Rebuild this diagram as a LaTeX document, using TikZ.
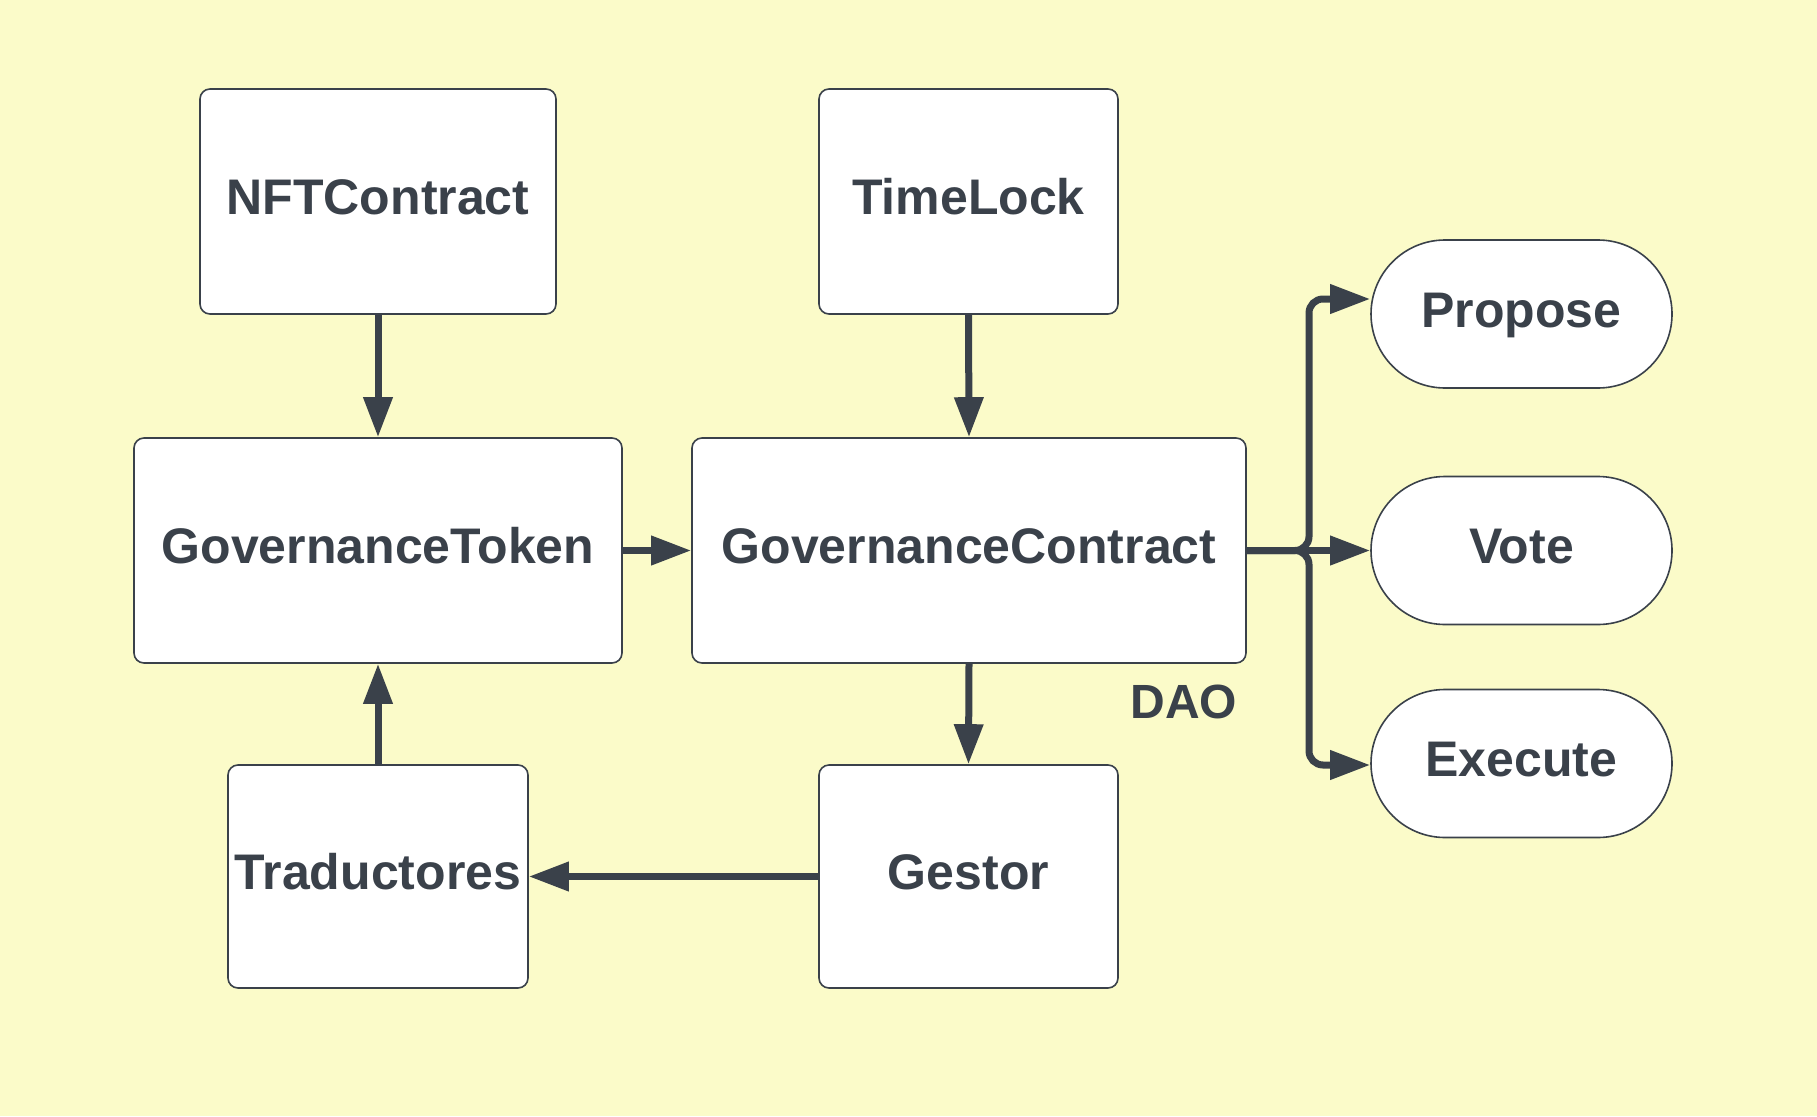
\documentclass[tikz,border=0pt]{standalone}
\usepackage{fontspec}
\setmainfont{Liberation Sans}
\usetikzlibrary{arrows.meta}
\definecolor{bg}{HTML}{FBFBC9}
\definecolor{ink}{HTML}{3A414A}
\tikzset{
  x=1pt,y=-1pt,
  box/.style={draw=ink, line width=1.6pt, fill=white, rounded corners=10pt, inner sep=0pt, text=ink,
    text height=37pt, text depth=10.5pt,
    font=\fontsize{50}{60}\selectfont\bfseries},
  pill/.style={box, rounded corners=74pt, minimum width=301pt, minimum height=148pt},
  conn/.style={draw=ink, line width=7pt, -{Triangle[length=40pt,width=28pt]}},
}
\begin{document}
\begin{tikzpicture}
\fill[bg] (0,0) rectangle (1817,1116);
\useasboundingbox (0,0) rectangle (1817,1116);
\node[box, minimum width=356pt, minimum height=225pt] (nft) at (378,201.5) {NFTContract};
\node[box, minimum width=299pt, minimum height=225pt] (tl) at (968.5,201.5) {TimeLock};
\node[box, minimum width=488pt, minimum height=225pt] (gt) at (378,550.5) {GovernanceToken};
\node[box, minimum width=554pt, minimum height=225pt] (gc) at (969,550.5) {GovernanceContract};
\node[box, minimum width=300pt, minimum height=223pt] (tr) at (378,876.5) {Traductores};
\node[box, minimum width=299pt, minimum height=223pt] (ge) at (968.5,876.5) {Gestor};
\node[pill] (pr) at (1521.5,314) {Propose};
\node[pill] (vo) at (1521.5,550.5) {Vote};
\node[pill] (ex) at (1521.5,763.5) {Execute};
\node[text=ink, font=\fontsize{48}{58}\selectfont\bfseries] (dao) at (1184,702) {DAO};
\coordinate (j) at (1309,550.5);
\draw[conn] (nft.south) -- (gt.north);
\draw[conn] (tl.south) -- (gc.north);
\draw[conn] (gt.east) -- (gc.west);
\draw[conn] (gc.south) -- (ge.north);
\draw[conn] (ge.west) -- (tr.east);
\draw[conn] (tr.north) -- (gt.south);
\draw[conn] (gc.east) -- (vo.west);
\draw[conn, rounded corners=14pt] (gc.east) -- (j) -- (j |- 0,299) -- (pr.west |- 0,299);
\draw[conn, rounded corners=14pt] (gc.east) -- (j) -- (j |- 0,765) -- (ex.west |- 0,765);
\end{tikzpicture}
\end{document}
